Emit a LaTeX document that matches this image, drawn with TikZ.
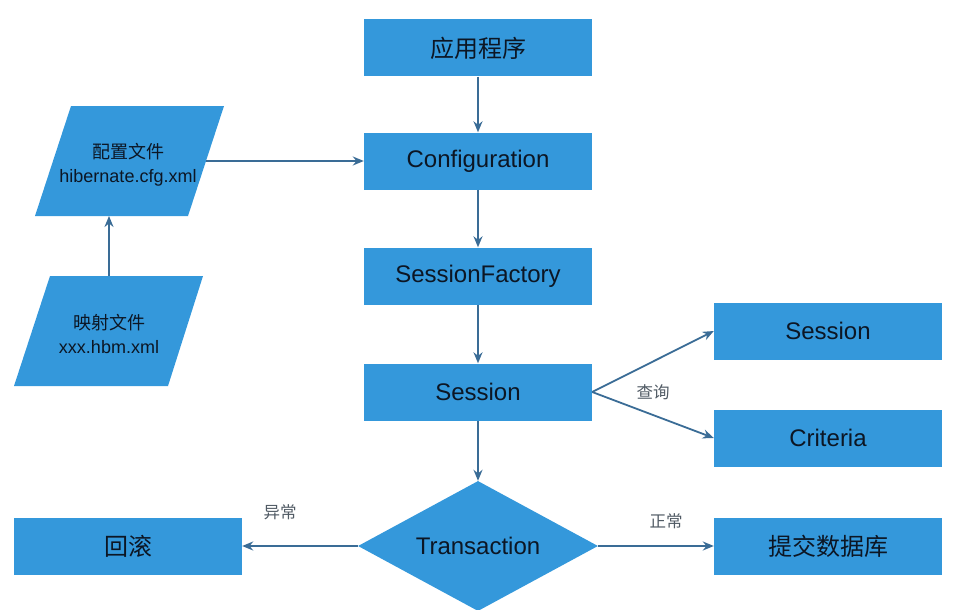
\documentclass[tikz,border=0pt]{standalone}
\usepackage{fontspec}
\setmainfont{Liberation Sans}
\newfontfamily\cjk{Noto Sans CJK SC}
\usetikzlibrary{arrows.meta,shapes.geometric}
\definecolor{boxblue}{RGB}{52,152,219}
\definecolor{linecol}{RGB}{58,108,150}
\definecolor{txt}{RGB}{12,22,36}
\definecolor{lbl}{RGB}{80,90,100}
\begin{document}
\begin{tikzpicture}[x=1pt,y=-1pt,
  box/.style={fill=boxblue, minimum width=228pt, minimum height=57pt, inner sep=0pt, text=txt, font=\fontsize{24}{26}\selectfont},
  ptext/.style={text=txt, align=center, font=\fontsize{18}{24}\selectfont},
  arr/.style={draw=linecol, line width=1.8pt, -{Stealth[length=11pt,width=9pt]}},
  lab/.style={text=lbl, font=\cjk\fontsize{16.5}{18}\selectfont}]
\useasboundingbox (0,0) rectangle (953,610);
% parallelograms
\fill[boxblue] (71,106) -- (224,106) -- (188,216) -- (35,216) -- cycle;
\fill[boxblue] (50,276) -- (203,276) -- (168,386) -- (14,386) -- cycle;
\node[ptext] (cfgfile) at (128,165) {{\cjk 配置文件}\\hibernate.cfg.xml};
\node[ptext] (mapfile) at (109,334) {{\cjk 映射文件}\\xxx.hbm.xml};
\coordinate (cfgright) at (206,161);
\coordinate (cfgbottom) at (109,216);
\coordinate (maptop) at (109,276);
% boxes
\node[box] (app) at (478,48) {{\cjk 应用程序}};
\node[box] (conf) at (478,161) {Configuration};
\node[box] (sf) at (478,276) {SessionFactory};
\node[box] (sess) at (478,392) {Session};
\node[box] (sess2) at (828,331) {Session};
\node[box] (crit) at (828,438) {Criteria};
\node[box] (roll) at (128,546) {{\cjk 回滚}};
\node[box] (commit) at (828,546) {{\cjk 提交数据库}};
\node[diamond, aspect=1.85, fill=boxblue, minimum width=240pt, minimum height=130pt, inner sep=0pt, text=txt, font=\fontsize{24}{26}\selectfont] (trans) at (478,546) {Transaction};
% connectors
\draw[arr] (app) -- (conf);
\draw[arr] (conf) -- (sf);
\draw[arr] (sf) -- (sess);
\draw[arr] (sess) -- (trans.north);
\draw[arr] (cfgright) -- (cfgright -| conf.west);
\draw[arr] (maptop) -- (cfgbottom);
\draw[arr] (sess.east) -- (sess2.west);
\draw[arr] (sess.east) -- (crit.west);
\draw[arr] (trans.east) -- (commit.west);
\draw[arr] (trans.west) -- (roll.east);
% labels
\node[lab] (q) at (653,392) {查询};
\node[lab] (err) at (280,512) {异常};
\node[lab] (ok) at (666,521) {正常};
\end{tikzpicture}
\end{document}
